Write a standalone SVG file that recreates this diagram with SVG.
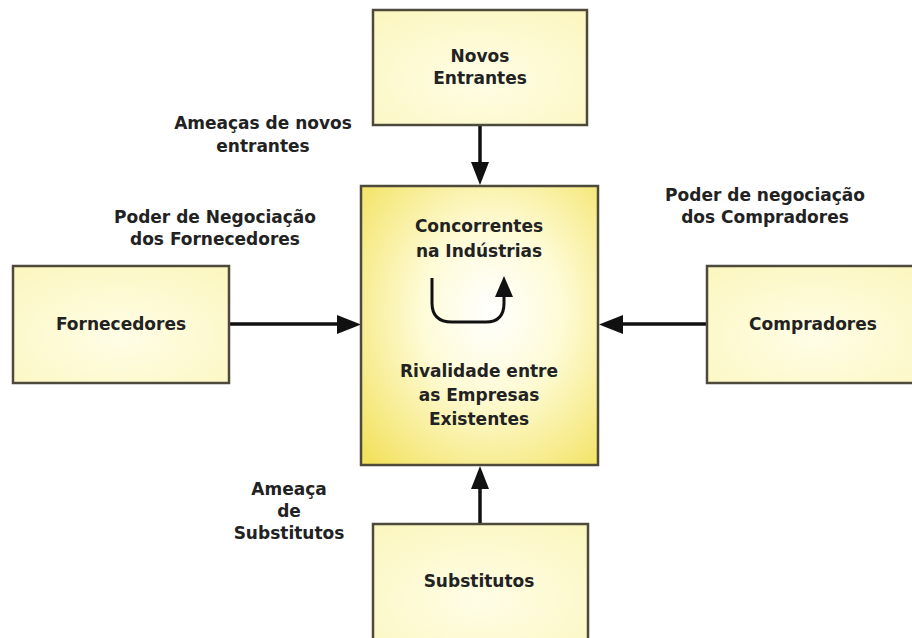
<svg xmlns="http://www.w3.org/2000/svg" width="912" height="638" viewBox="0 0 912 638">
<defs>
  <radialGradient id="gCenter" cx="0.55" cy="0.45" r="0.75">
    <stop offset="0" stop-color="#ffffff"/>
    <stop offset="0.4" stop-color="#fefbd6"/>
    <stop offset="1" stop-color="#f2e15c"/>
  </radialGradient>
  <radialGradient id="gBox" cx="0.5" cy="0.6" r="0.8">
    <stop offset="0" stop-color="#fffde6"/>
    <stop offset="1" stop-color="#fbf6bc"/>
  </radialGradient>
  <style>
    .box{fill:url(#gBox);stroke:#4d4a3c;stroke-width:2.5}
    .center{fill:url(#gCenter);stroke:#4d4a3c;stroke-width:2.5}
    text{font-family:"DejaVu Sans",Verdana,sans-serif;font-weight:bold;font-size:17px;fill:#222;text-anchor:middle}
    .conn{stroke:#111;stroke-width:3.5;fill:none}
    .head{fill:#111}
  </style>
</defs>
<rect width="912" height="638" fill="#ffffff"/>

<g id="connectors">
  <line class="conn" x1="480" y1="125" x2="480" y2="164"/>
  <path class="head" d="M471,162 L489,162 L480,185 Z"/>
  <line class="conn" x1="229" y1="324" x2="340" y2="324"/>
  <path class="head" d="M337,315 L337,334 L361,324.5 Z"/>
  <line class="conn" x1="707" y1="324" x2="620" y2="324"/>
  <path class="head" d="M623,315 L623,334 L599,324.5 Z"/>
  <line class="conn" x1="480" y1="524" x2="480" y2="487"/>
  <path class="head" d="M471,489 L489,489 L480,466 Z"/>
</g>

<g id="novos-entrantes">
  <rect class="box" x="373" y="10" width="214" height="115"/>
  <text x="480" y="62">Novos</text>
  <text x="480" y="84">Entrantes</text>
</g>

<g id="concorrentes">
  <rect class="center" x="361" y="186" width="237" height="279"/>
  <text x="479" y="232">Concorrentes</text>
  <text x="479" y="257">na Indústrias</text>
  <path d="M432,278 L432,303 Q432,322 452,322 L486,322 Q504,322 504,303 L504,296" stroke="#111" stroke-width="3" fill="none"/>
  <path class="head" d="M495,297 L513,297 L504,276 Z"/>
  <text x="479" y="377">Rivalidade entre</text>
  <text x="479" y="401">as Empresas</text>
  <text x="479" y="425">Existentes</text>
</g>

<g id="fornecedores">
  <rect class="box" x="13" y="266" width="216" height="117"/>
  <text x="121" y="330">Fornecedores</text>
</g>

<g id="compradores">
  <rect class="box" x="707" y="266" width="214" height="117"/>
  <text x="813" y="330">Compradores</text>
</g>

<g id="substitutos">
  <rect class="box" x="373" y="524" width="215" height="125"/>
  <text x="479" y="587">Substitutos</text>
</g>

<g id="labels">
  <text x="263" y="129">Ameaças de novos</text>
  <text x="263" y="152">entrantes</text>
  <text x="215" y="223">Poder de Negociação</text>
  <text x="215" y="245">dos Fornecedores</text>
  <text x="765" y="201">Poder de negociação</text>
  <text x="765" y="223">dos Compradores</text>
  <text x="289" y="495">Ameaça</text>
  <text x="289" y="517">de</text>
  <text x="289" y="539">Substitutos</text>
</g>
</svg>
